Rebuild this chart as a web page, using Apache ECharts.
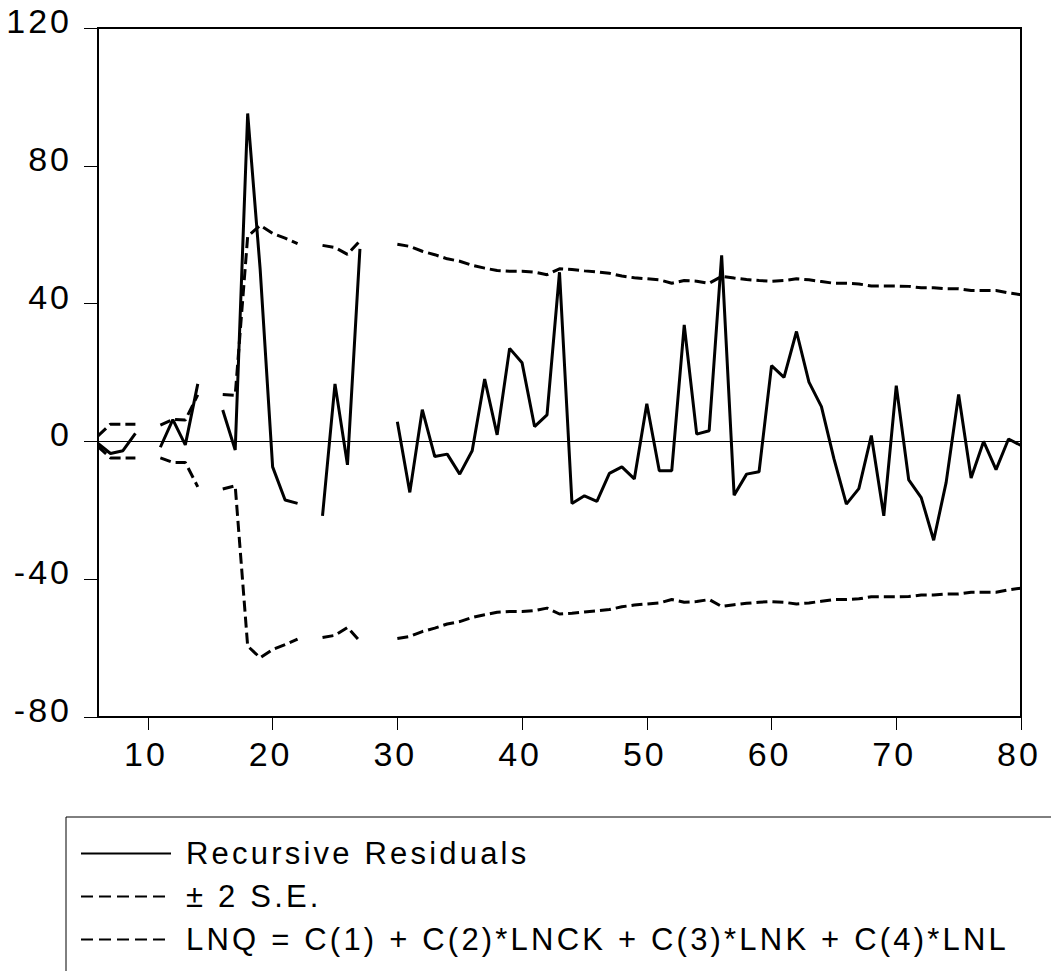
<!DOCTYPE html>
<html><head><meta charset="utf-8">
<script src="https://cdn.jsdelivr.net/npm/echarts@6/dist/echarts.min.js"></script>
<style>
html,body{margin:0;padding:0;background:#fff}
#c{width:1051px;height:971px}
#c svg text{letter-spacing:3.5px}
#c svg text[style*="34px"], #c svg text [style*="34px"]{letter-spacing:3px}
#c svg text[style*="31px"]{letter-spacing:3.2px}
</style>
</head><body><div id="c"></div>
<script>
const obs = [6,7,8,9,10,11,12,13,14,15,16,17,18,19,20,21,22,23,24,25,26,27,28,29,30,
  31,32,33,34,35,36,37,38,39,40,41,42,43,44,45,46,47,48,49,50,51,52,53,54,55,
  56,57,58,59,60,61,62,63,64,65,66,67,68,69,70,71,72,73,74,75,76,77,78,79,80];
const residuals = [-0.6,-3.5,-2.7,2.3,null,-1.7,6.3,-1.0,16.7,null,9.1,-2.5,95.2,50.0,-7.4,-17.0,-18.0,null,-21.6,16.7,-6.8,55.9,null,null,5.7,
  -14.8,9.2,-4.4,-3.7,-9.5,-2.7,18.1,1.9,27.0,22.8,4.3,7.7,49.1,-18.0,-15.8,-17.4,-9.3,-7.4,-10.9,10.9,-8.5,-8.5,33.8,2.1,3.1,
  54.0,-15.6,-9.5,-8.8,22.0,18.6,31.9,17.2,10.1,-5.0,-18.2,-13.7,1.7,-21.6,16.2,-11.2,-16.3,-28.7,-11.9,13.6,-10.6,0.0,-8.2,0.7,-1.2];
const seUpper = [1.6,5.0,5.0,5.0,null,4.7,6.4,6.2,13.5,null,13.6,13.4,59.5,62.7,60.4,59.0,57.4,null,56.9,56.3,54.3,58.2,null,null,57.2,
  56.6,55.2,54.2,53.0,52.3,51.1,50.3,49.6,49.4,49.4,49.1,48.4,50.1,49.9,49.5,49.2,48.8,48.0,47.5,47.2,46.9,45.9,46.7,46.5,45.9,
  47.9,47.4,47.0,46.7,46.5,46.7,47.2,46.9,46.4,45.9,45.9,45.7,45.1,45.1,45.1,45.0,44.6,44.6,44.3,44.3,43.8,43.8,43.8,43.1,42.6];
const seLower = [-1.5,-4.8,-4.8,-4.8,null,-4.8,-6.1,-6.1,-13.2,null,-13.8,-12.9,-59.4,-62.8,-60.4,-59.0,-57.4,null,-56.9,-56.3,-54.0,-58.0,null,null,-57.2,
  -56.6,-55.2,-54.2,-53.0,-52.3,-51.1,-50.3,-49.6,-49.4,-49.4,-49.1,-48.4,-50.1,-49.9,-49.5,-49.2,-48.8,-48.0,-47.5,-47.2,-46.9,-45.9,-46.7,-46.5,-45.9,
  -47.9,-47.4,-47.0,-46.7,-46.5,-46.7,-47.2,-46.9,-46.4,-45.9,-45.9,-45.7,-45.1,-45.1,-45.1,-45.0,-44.6,-44.6,-44.3,-44.3,-43.8,-43.8,-43.8,-43.1,-42.6];
const xTicks = [10,20,30,40,50,60,70,80];
const seriesNames = ['Recursive Residuals', '± 2 S.E.', 'LNQ = C(1) + C(2)*LNCK + C(3)*LNK + C(4)*LNL'];

const FONT = "'Liberation Sans', Arial, sans-serif";
function pairs(vals){ return obs.map((x,i) => [x, vals[i] == null ? '-' : vals[i]]); }

const chart = echarts.init(document.getElementById('c'), null, {renderer:'svg'});
chart.setOption({
  animation: false,
  backgroundColor: '#fff',
  grid: {left: 98, right: 30, top: 28, bottom: 254, outerBoundsMode: 'none', containLabel: false,
         show: true, borderColor: '#000', borderWidth: 2, backgroundColor: 'transparent'},
  graphic: [{type: 'rect', silent: true, shape: {x: 66, y: 817, width: 1200, height: 400}, style: {fill: 'none', stroke: '#000', lineWidth: 1}}],
  legend: {
    orient: 'vertical', left: 75, top: 833, itemGap: 12, itemWidth: 90, itemHeight: 14,
    data: [
      {name: seriesNames[0]},
      {name: seriesNames[1], lineStyle: {type: [12,6]}},
      {name: seriesNames[2], lineStyle: {type: [12,6]}}
    ],
    lineStyle: {width: 2},
    itemStyle: {opacity: 0},
    textStyle: {fontSize: 31, color: '#000', fontFamily: FONT, padding: [0,0,0,10]}
  },
  xAxis: {
    type: 'value', min: 6, max: 80,
    axisLine: {show: true, onZero: false, lineStyle: {color: '#000', width: 2}},
    axisTick: {show: true, customValues: xTicks, length: 13, lineStyle: {color: '#000', width: 1}},
    axisLabel: {customValues: xTicks, fontSize: 34, margin: 20, color: '#000', fontFamily: FONT, padding: [0,4,0,0]},
    splitLine: {show: false}
  },
  yAxis: {
    type: 'value', min: -80, max: 120, interval: 40,
    axisLine: {show: true, lineStyle: {color: '#000', width: 2}},
    axisTick: {show: true, length: 14, lineStyle: {color: '#000', width: 1}},
    axisLabel: {formatter: v => '{t|' + v + '}', margin: 26, color: '#000',
      rich: {t: {fontSize: 34, fontFamily: FONT, color: '#000', padding: [0,0,14,0]}}},
    splitLine: {show: false}
  },
  series: [
    {name: seriesNames[0], type: 'line', data: pairs(residuals), symbol: 'none', z: 3,
     lineStyle: {color: '#000', width: 3}, itemStyle: {color: '#000'},
     markLine: {silent: true, symbol: ['none','none'], label: {show: false}, lineStyle: {color: '#000', width: 1, type: 'solid'}, data: [{yAxis: 0}]}},
    {name: seriesNames[1], type: 'line', data: pairs(seUpper), symbol: 'none',
     lineStyle: {color: '#000', width: 3, type: [11,5]}, itemStyle: {color: '#000'}},
    {name: seriesNames[2], type: 'line', data: pairs(seLower), symbol: 'none',
     lineStyle: {color: '#000', width: 3, type: [11,5]}, itemStyle: {color: '#000'}}
  ]
});
</script></body></html>
